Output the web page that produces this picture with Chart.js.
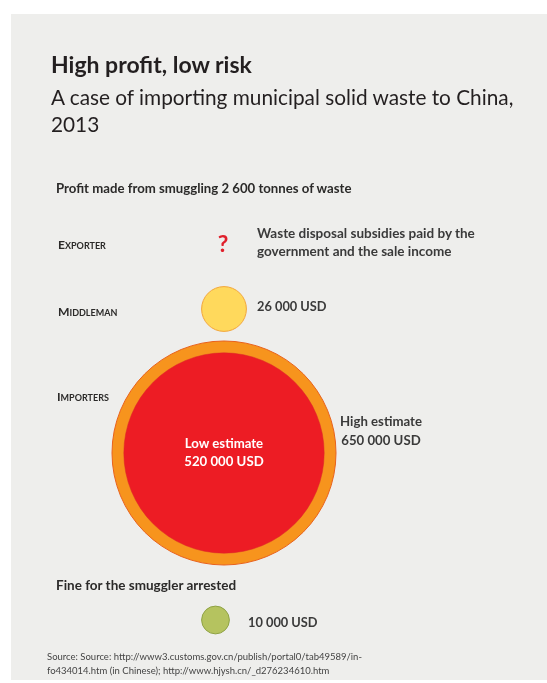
<!DOCTYPE html>
<html>
<head>
<meta charset="utf-8">
<script src="https://cdn.jsdelivr.net/npm/chart.js@4"></script>
<style>
  body { margin: 0; background: #fff; font-family: "Lato", sans-serif; color: #2b2a29; }
  #panel { position: absolute; left: 11px; top: 14px; width: 536px; height: 666px; background: #eeeeec; }
  #chart { position: absolute; left: 0; top: 0; }
  .t { position: absolute; white-space: nowrap; }
  .row { font-weight: bold; font-variant: small-caps; }
</style>
</head>
<body>
<div id="panel"></div>
<canvas id="chart" width="547" height="683"></canvas>
<div id="texts"></div>
<script>
// Data
const rows = ["Exporter", "Middleman", "Importers"];
const profitUSD = [null, 26000, 520000]; // importers: low estimate
const importerHighUSD = 650000;
const fineUSD = 10000;
const tonnes = 2600;

// Layout (pixel positions on the page)
const colX = 224;
const maxR = 112; // radius of the largest value
const centerY = { Middleman: 309, Importers: 453, Fine: 620 };

const radius = (v) => maxR * Math.sqrt(v / importerHighUSD);
const fmt = (v) => String(v).replace(/\B(?=(\d{3})+(?!\d))/g, " ");

const rMid = radius(profitUSD[1]);
const rFine = radius(fineUSD);

// Chart (first dataset is drawn on top)
const ctx = document.getElementById("chart").getContext("2d");
const chart = new Chart(ctx, {
  type: "bubble",
  data: {
    datasets: [
      {
        label: "Fine",
        data: [{ x: colX - rMid + rFine, y: centerY.Fine, r: rFine }],
        backgroundColor: "#b5c35f",
        borderColor: "#8fa246",
        borderWidth: 1,
      },
      {
        label: "Middleman",
        data: [{ x: colX, y: centerY.Middleman, r: rMid }],
        backgroundColor: "#ffd95c",
        borderColor: "#f2a53a",
        borderWidth: 1,
      },
      {
        label: "Low estimate",
        data: [{ x: colX, y: centerY.Importers, r: radius(profitUSD[2]) }],
        backgroundColor: "#ed1c24",
        borderColor: "#d8262a",
        borderWidth: 0.5,
      },
      {
        label: "High estimate",
        data: [{ x: colX, y: centerY.Importers, r: radius(importerHighUSD) }],
        backgroundColor: "#f7941d",
        borderColor: "#e8611c",
        borderWidth: 1,
      },
    ],
  },
  options: {
    responsive: false,
    animation: false,
    layout: { padding: 0, autoPadding: false },
    scales: {
      x: { display: false, min: 0, max: 547 },
      y: { display: false, min: 0, max: 683, reverse: true },
    },
    plugins: { legend: { display: false }, tooltip: { enabled: false } },
  },
});

// Texts, positioned by baseline (Lato: ascent .987, descent .213)
const box = document.getElementById("texts");
function put(text, x, base, size, opts = {}) {
  const d = document.createElement("div");
  d.className = "t " + (opts.cls || "");
  d.textContent = text;
  const lh = Math.round(size * 1.4);
  d.style.fontSize = size + "px";
  d.style.lineHeight = lh + "px";
  d.style.top = base - lh / 2 - 0.387 * size + "px";
  if (opts.weight) d.style.fontWeight = opts.weight;
  if (opts.color) d.style.color = opts.color;
  if (opts.center) {
    d.style.left = x - 200 + "px";
    d.style.width = "400px";
    d.style.textAlign = "center";
  } else {
    d.style.left = x + "px";
  }
  box.appendChild(d);
}

put("High profit, low risk", 51, 73, 23, { weight: "bold", color: "#231f20" });
put("A case of importing municipal solid waste to China,", 51, 105, 20.8, { color: "#231f20" });
put("2013", 51, 132, 20.8, { color: "#231f20" });
put("Profit made from smuggling " + fmt(tonnes) + " tonnes of waste", 56, 193, 13.2, { weight: "bold" });

put(rows[0], 58, 249, 12.2, { cls: "row" });
put(rows[1], 58, 316, 12.2, { cls: "row" });
put(rows[2], 57, 401, 12.2, { cls: "row" });

put("?", 223, 252, 23, { weight: "bold", color: "#e0202c", center: true });
put("Waste disposal subsidies paid by the", 257, 239, 13.5, { weight: "bold", color: "#3a3a3a" });
put("government and the sale income", 257, 257, 13.5, { weight: "bold", color: "#3a3a3a" });
put(fmt(profitUSD[1]) + " USD", 257, 311, 12.8, { weight: "bold", color: "#3a3a3a" });

put("High estimate", 381, 426, 13.2, { weight: "bold", color: "#3a3a3a", center: true });
put(fmt(importerHighUSD) + " USD", 381, 445, 13.2, { weight: "bold", color: "#3a3a3a", center: true });
put("Low estimate", colX, 448, 13.2, { weight: "bold", color: "#ffffff", center: true });
put(fmt(profitUSD[2]) + " USD", colX, 466, 13.2, { weight: "bold", color: "#ffffff", center: true });

put("Fine for the smuggler arrested", 56, 591, 13.5, { weight: "bold" });
put(fmt(fineUSD) + " USD", 248, 627, 12.8, { weight: "bold", color: "#3a3a3a" });

put("Source: Source: http://www3.customs.gov.cn/publish/portal0/tab49589/in-", 47, 660, 9.5, { color: "#444" });
put("fo434014.htm (in Chinese); http://www.hjysh.cn/_d276234610.htm", 47, 674, 9.5, { color: "#444" });
</script>
</body>
</html>
